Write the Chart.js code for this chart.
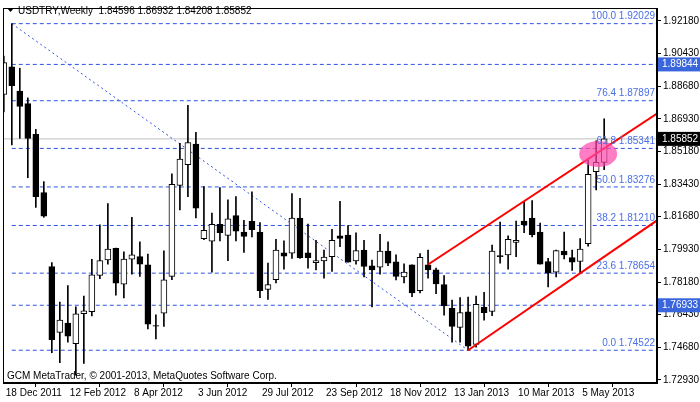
<!DOCTYPE html>
<html><head><meta charset="utf-8">
<script src="https://cdn.jsdelivr.net/npm/chart.js@4/dist/chart.umd.min.js"></script>
<style>html,body{margin:0;padding:0;background:#fff}#w{width:700px;height:402px}</style>
</head><body><div id="w"><canvas id="c"></canvas></div>
<script>
const opens  = [1.8823,1.8971,1.8841,1.8774,1.8610,1.8298,1.7901,1.7548,1.7598,1.7487,1.7648,1.7659,1.7853,1.7936,1.7998,1.7807,1.7941,1.7954,1.7910,1.7585,1.7651,1.7848,1.8336,1.8447,1.8557,1.8050,1.8037,1.8127,1.8068,1.8174,
1.8086,1.8143,1.8086,1.7778,1.7831,1.7975,1.7972,1.8160,1.7975,1.7922,1.7931,1.7954,1.8065,1.8069,1.7931,1.7989,1.7905,1.7898,1.7984,1.7926,1.7845,1.7910,1.7772,1.7910,1.7883,1.7804,1.7677,1.7575,1.7658,1.7483,
1.7684,1.7660,1.7959,1.7963,1.8030,1.8144,1.8160,1.8086,1.7928,1.7871,1.7984,1.7949,1.7928,1.8024,1.8409,1.84596];
const highs  = [1.9029,1.9203,1.8964,1.8805,1.8636,1.8356,1.7922,1.7710,1.7799,1.7685,1.7742,1.7939,1.8125,1.8239,1.8000,1.7980,1.8165,1.8033,1.7968,1.7642,1.7985,1.8398,1.8562,1.8765,1.8620,1.8329,1.8188,1.8324,1.8259,1.8276,
1.8148,1.8301,1.8136,1.7919,1.8047,1.8039,1.8292,1.8266,1.8128,1.8042,1.7989,1.8100,1.8250,1.8121,1.8081,1.8042,1.7936,1.8074,1.8033,1.7963,1.7915,1.7910,1.7970,1.7989,1.7892,1.7852,1.7721,1.7734,1.7737,1.7742,
1.7763,1.8016,1.8139,1.8065,1.8144,1.8248,1.8254,1.8134,1.7945,1.7989,1.8086,1.7989,1.8051,1.8474,1.8575,1.86932];
const lows   = [1.8730,1.8553,1.8588,1.8377,1.8218,1.8165,1.7439,1.7386,1.7495,1.7319,1.7381,1.7636,1.7836,1.7913,1.7747,1.7733,1.7860,1.7848,1.7566,1.7513,1.7580,1.7830,1.8204,1.8275,1.8162,1.8045,1.7871,1.8038,1.7933,1.8038,
1.7977,1.8060,1.7734,1.7725,1.7813,1.7887,1.7945,1.7945,1.7892,1.7883,1.7839,1.7875,1.8007,1.7924,1.7913,1.7845,1.7684,1.7860,1.7906,1.7829,1.7813,1.7739,1.7760,1.7839,1.7755,1.7640,1.7496,1.7496,1.7452,1.7469,
1.7614,1.7637,1.7919,1.7887,1.7954,1.8083,1.8060,1.7913,1.7792,1.7845,1.7942,1.7880,1.7866,1.8010,1.8312,1.84208];
const closes = [1.8994,1.8870,1.8759,1.8588,1.8276,1.8171,1.7509,1.7614,1.7527,1.7648,1.7663,1.7857,1.7933,1.7994,1.7812,1.7941,1.7963,1.7913,1.7592,1.7581,1.7830,1.8341,1.8477,1.8566,1.8214,1.8095,1.8127,1.8082,1.8156,1.8090,
1.8063,1.8099,1.7772,1.7804,1.7989,1.7957,1.8160,1.7949,1.7949,1.7933,1.7952,1.8042,1.8051,1.7924,1.7986,1.7901,1.7883,1.7984,1.7919,1.7848,1.7871,1.7760,1.7950,1.7883,1.7808,1.7690,1.7580,1.7654,1.7474,1.7698,
1.7654,1.7984,1.7954,1.8047,1.8042,1.8125,1.8072,1.7913,1.7866,1.7986,1.7963,1.7924,1.7994,1.8395,1.8460,1.85852];
const tickIdx = [0,8,16,24,32,40,48,56,64,72];
const tickLabels = ["18 Dec 2011","12 Feb 2012","8 Apr 2012","3 Jun 2012","29 Jul 2012","23 Sep 2012","18 Nov 2012","13 Jan 2013","10 Mar 2013","5 May 2013"];
const priceTicks = [1.92180,1.90430,1.88680,1.86930,1.85180,1.83430,1.81680,1.79930,1.78180,1.76430,1.74680,1.72930];
const fibLevels = [1.92029,1.89844,1.87897,1.85341,1.83276,1.81210,1.78654,1.76933,1.74522];
const fibLabels = ["100.0 1.92029","","76.4 1.87897","61.8 1.85341","50.0 1.83276","38.2 1.81210","23.6 1.78654","","0.0 1.74522"];
const lastPrice = 1.85852;
const trendDiag = [{x:1,y:1.92029},{x:58,y:1.74522}];
const channelUpper = [{x:53,y:1.7912},{x:81.6,y:1.8721}];
const channelLower = [{x:58,y:1.7452},{x:81.6,y:1.8148}];
const XMAX = 81.6, YMIN = 1.72766, YMAX = 1.92868;

const up = closes.map((c,i)=>c>=opens[i]);
const wicks = highs.map((h,i)=>({x:i,y:[lows[i],h]}));
const bodies = opens.map((o,i)=>({x:i,y:[Math.min(o,closes[i]),Math.max(o,closes[i])]}));

const FONT='"Liberation Sans", Arial, sans-serif';
const BLUE='#2f55e0', FIBTXT='#4a6ee8';
const datasets = [];
fibLevels.forEach(l=>datasets.push({type:'line',data:[{x:1,y:l},{x:XMAX,y:l}],borderColor:BLUE,borderWidth:1,borderDash:[4,3],pointRadius:0,order:10}));
datasets.push({type:'line',data:[{x:-1,y:lastPrice},{x:XMAX,y:lastPrice}],borderColor:'#c0c0c0',borderWidth:1,pointRadius:0,order:11});
datasets.push({type:'line',data:trendDiag,borderColor:BLUE,borderWidth:1,borderDash:[2,3],pointRadius:0,order:10});
datasets.push({type:'bar',data:wicks,backgroundColor:'#000',barThickness:1,grouped:false,order:3});
datasets.push({type:'bar',data:bodies,backgroundColor:up.map(u=>u?'#fff':'#000'),borderColor:'#000',borderWidth:1,borderSkipped:false,barThickness:6,grouped:false,order:2});
datasets.push({type:'line',data:channelUpper,borderColor:'#ff0000',borderWidth:2,pointRadius:0,order:0});
datasets.push({type:'line',data:channelLower,borderColor:'#ff0000',borderWidth:2,pointRadius:0,order:0});

const deco = {
  id:'deco',
  afterDatasetsDraw(ch){
    const {ctx,chartArea:a,scales:{x,y}} = ch;
    ctx.save();
    ctx.fillStyle='rgba(255,70,170,0.7)';
    ctx.beginPath();
    ctx.ellipse(x.getPixelForValue(74.25),y.getPixelForValue(1.8504),19,13,0,0,Math.PI*2);
    ctx.fill();
    ctx.font='10px '+FONT;
    ctx.fillStyle=FIBTXT; ctx.textAlign='right'; ctx.textBaseline='bottom';
    fibLevels.forEach((l,i)=>{ if(fibLabels[i]) ctx.fillText(fibLabels[i], a.right-2, y.getPixelForValue(l)-2); });
    ctx.fillStyle='#000'; ctx.textAlign='left'; ctx.textBaseline='middle';
    ctx.font='10px '+FONT;
    ctx.beginPath(); ctx.moveTo(7,8); ctx.lineTo(14,8); ctx.lineTo(10.5,12); ctx.closePath(); ctx.fill();
    ctx.fillText('USDTRY,Weekly  1.84596 1.86932 1.84208 1.85852',18,11);
    ctx.fillText('GCM MetaTrader, \u00a9 2001-2013, MetaQuotes Software Corp.',7,376);
    ctx.font='10px '+FONT; ctx.textBaseline='middle';
    tickIdx.forEach((v,i)=>ctx.fillText(tickLabels[i], x.getPixelForValue(v)+2, a.bottom+10));
    ctx.strokeStyle='#000'; ctx.lineWidth=1;
    ctx.strokeRect(a.left+0.5,a.top+0.5,a.right-a.left-1,a.bottom-a.top-1);
    const box=(p,bg)=>{const yy=y.getPixelForValue(p);ctx.fillStyle=bg;ctx.fillRect(a.right+1,yy-7,43,14);
      ctx.fillStyle='#fff';ctx.font='10px '+FONT;ctx.textAlign='left';ctx.fillText(p.toFixed(5),a.right+5,yy);};
    box(1.89844,'#3a66dd'); box(1.76933,'#3a66dd'); box(lastPrice,'#000');
    ctx.restore();
  }
};

new Chart(document.getElementById('c'),{
  data:{datasets},
  options:{
    responsive:true,maintainAspectRatio:false,animation:false,
    layout:{padding:{top:3,left:3,right:0,bottom:0}},
    plugins:{legend:{display:false},tooltip:{enabled:false}},
    scales:{
      x:{type:'linear',offset:false,min:-0.1,max:XMAX,
        afterBuildTicks(s){s.ticks=tickIdx.map(v=>({value:v}));},
        afterFit(s){s.height=19;},
        ticks:{display:false},
        grid:{drawOnChartArea:false,tickLength:4,color:'#000'},border:{color:'#000'}},
      y:{type:'linear',position:'right',min:YMIN,max:YMAX,
        afterBuildTicks(s){s.ticks=priceTicks.map(v=>({value:v}));},
        afterFit(s){s.width=43;},
        ticks:{autoSkip:false,padding:2,color:'#000',font:{family:FONT,size:10},callback:v=>v.toFixed(5)},
        grid:{drawOnChartArea:false,tickLength:4,color:'#000'},border:{color:'#000'}}
    }
  },
  plugins:[deco]
});
</script></body></html>
